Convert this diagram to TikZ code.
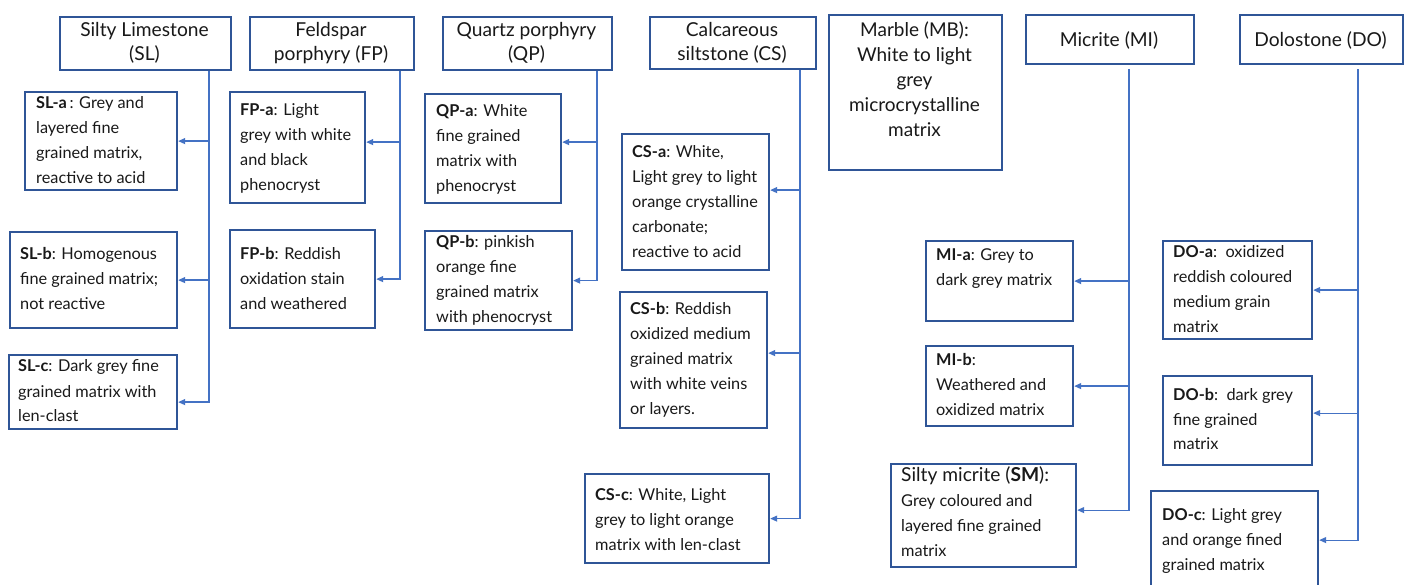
\documentclass[tikz,border=0pt]{standalone}
\usepackage{fontspec}
\setmainfont{Lato}
\usetikzlibrary{arrows.meta,calc}
\definecolor{boxblue}{HTML}{2F5597}
\definecolor{lineblue}{HTML}{4472C4}
\newcommand\bodyfont{\fontsize{16.3}{25}\selectfont}
\newcommand\headfont{\fontsize{19.2}{24}\selectfont}
\newcommand\mbfont{\fontsize{19}{25}\selectfont}
\newcommand\tl[1]{\begin{tabular}[t]{@{}l@{}}#1\end{tabular}}
\newcommand\tcc[1]{\begin{tabular}[t]{@{}c@{}}#1\end{tabular}}
\begin{document}
\begin{tikzpicture}[x=1pt,y=-1pt,
  box/.style={draw=boxblue,line width=2.2pt,inner sep=0pt,anchor=north west,fill=white},
  sz/.style 2 args={minimum width=#1pt,minimum height=#2pt},
  txt/.style={inner sep=0pt,anchor=base west,font=\bodyfont,text=black!90},
  htxt/.style={inner sep=0pt,anchor=base,font=\headfont,text=black!90},
  conn/.style={draw=lineblue,line width=1.2pt},
  arr/.style={conn,-{Triangle[length=7pt,width=6pt]}}]
\useasboundingbox[fill=white] (0,0) rectangle (1409,585);

% headers
\node[box,sz={171}{53}] (sl) at (59,16) {};
\node[box,sz={164}{53}] (fp) at (249,16) {};
\node[box,sz={169}{53}] (qp) at (442,16) {};
\node[box,sz={166}{52}] (cs) at (649,16) {};
\node[box,sz={173}{155}] (mb) at (828,14) {};
\node[box,sz={168}{49}] (mi) at (1025,14) {};
\node[box,sz={163}{49}] (do) at (1239,14) {};

\node[htxt] (slt) at (144.5,37) {\tcc{Silty Limestone\\(SL)}};
\node[htxt] (fpt) at (331,37) {\tcc{Feldspar\\porphyry (FP)}};
\node[htxt] (qpt) at (526.5,37) {\tcc{Quartz porphyry\\(QP)}};
\node[htxt] (cst) at (732,37) {\tcc{Calcareous\\siltstone (CS)}};
\node[htxt,font=\mbfont] (mbt) at (914.5,37) {\tcc{Marble (MB):\\White to light\\grey\\microcrystalline\\matrix}};
\node[htxt] (mit) at (1109,47) {Micrite (MI)};
\node[htxt] (dot) at (1320.5,47) {Dolostone (DO)};

% sub boxes
\node[box,sz={152}{98}] (sla) at (24,91) {};
\node[box,sz={167}{96}] (slb) at (9,231) {};
\node[box,sz={168}{74}] (slc) at (8,354) {};
\node[box,sz={135}{111}] (fpa) at (229,91) {};
\node[box,sz={145}{98}] (fpb) at (229,229) {};
\node[box,sz={136}{109}] (qpa) at (424,93) {};
\node[box,sz={147}{99}] (qpb) at (424,230) {};
\node[box,sz={147}{136}] (csa) at (621,133) {};
\node[box,sz={147}{136}] (csb) at (619,291) {};
\node[box,sz={184}{89}] (csc) at (584,473) {};
\node[box,sz={147}{80}] (mia) at (925,240) {};
\node[box,sz={147}{80}] (mib) at (925,345) {};
\node[box,sz={185}{103}] (sm) at (890,463) {};
\node[box,sz={149}{98}] (doa) at (1162,240) {};
\node[box,sz={149}{89}] (dob) at (1162,375) {};
\node[box,sz={167}{110}] (doc) at (1150,490) {};

% texts
\node[txt] (slat) at (36,109) {\tl{\textbf{SL-a}\,: Grey and\\layered fine\\grained matrix,\\reactive to acid}};
\node[txt] (slbt) at (20,260) {\tl{\textbf{SL-b}: Homogenous\\fine grained matrix;\\not reactive}};
\node[txt] (slct) at (18,372) {\tl{\textbf{SL-c}: Dark grey fine\\grained matrix with\\len-clast}};
\node[txt] (fpat) at (240,116) {\tl{\textbf{FP-a}: Light\\grey with white\\and black\\phenocryst}};
\node[txt] (fpbt) at (240,260) {\tl{\textbf{FP-b}: Reddish\\oxidation stain\\and weathered}};
\node[txt] (qpat) at (436,117) {\tl{\textbf{QP-a}: White\\fine grained\\matrix with\\phenocryst}};
\node[txt] (qpbt) at (436,248) {\tl{\textbf{QP-b}: pinkish\\orange fine\\grained matrix\\with phenocryst}};
\node[txt] (csat) at (632,158) {\tl{\textbf{CS-a}: White,\\Light grey to light\\orange crystalline\\carbonate;\\reactive to acid}};
\node[txt] (csbt) at (630,315) {\tl{\textbf{CS-b}: Reddish\\oxidized medium\\grained matrix\\with white veins\\or layers.}};
\node[txt] (csct) at (595,500) {\tl{\textbf{CS-c}: White, Light\\grey to light orange\\matrix with len-clast}};
\node[txt] (miat) at (936,261) {\tl{\textbf{MI-a}: Grey to\\dark grey matrix}};
\node[txt] (mibt) at (936,366) {\tl{\textbf{MI-b}:\\Weathered and\\oxidized matrix}};
\node[txt] (smt) at (901,481) {\tl{{\headfont Silty micrite (\textbf{SM}):}\\Grey coloured and\\layered fine grained\\matrix}};
\node[txt] (doat) at (1173,258) {\tl{\textbf{DO-a}:\ \ oxidized\\reddish coloured\\medium grain\\matrix}};
\node[txt] (dobt) at (1173,400) {\tl{\textbf{DO-b}:\ \ dark grey\\fine grained\\matrix}};
\node[txt] (doct) at (1162,520) {\tl{\textbf{DO-c}: Light grey\\and orange fined\\grained matrix}};

% trunk x positions
\coordinate (slx) at (209,0);
\coordinate (fpx) at (400,0);
\coordinate (qpx) at (597,0);
\coordinate (csx) at (800,0);
\coordinate (mix) at (1129,0);
\coordinate (dox) at (1358,0);
\coordinate (mis) at ([yshift=-4pt]mi.south);
\coordinate (dos) at ([yshift=-4pt]do.south);
% arrow end points
\coordinate (slcE) at ([yshift=-10pt]slc.east);
\coordinate (fpaE) at ([yshift=5.5pt]fpa.east);
\coordinate (qpaE) at ([yshift=6.5pt]qpa.east);
\coordinate (csaE) at ([yshift=12pt]csa.east);
\coordinate (csbE) at ([yshift=7pt]csb.east);
\coordinate (smE) at ([yshift=5.5pt]sm.east);
\coordinate (dobE) at ([yshift=7.5pt]dob.east);
\coordinate (docE) at ([yshift=6pt]doc.east);

% connectors
\draw[arr] (sl.south -| slx) |- (slcE);
\draw[arr] (slx |- sla.east) -- (sla.east);
\draw[arr] (slx |- slb.east) -- (slb.east);

\draw[arr] (fp.south -| fpx) |- (fpb.east);
\draw[arr] (fpx |- fpaE) -- (fpaE);

\draw[arr] (qp.south -| qpx) |- (qpb.east);
\draw[arr] (qpx |- qpaE) -- (qpaE);

\draw[arr] (cs.south -| csx) |- (csc.east);
\draw[arr] (csx |- csaE) -- (csaE);
\draw[arr] (csx |- csbE) -- (csbE);

\draw[arr] (mis -| mix) |- (smE);
\draw[arr] (mix |- mia.east) -- (mia.east);
\draw[arr] (mix |- mib.east) -- (mib.east);

\draw[arr] (dos -| dox) |- (docE);
\draw[arr] (dox |- doa.east) -- (doa.east);
\draw[arr] (dox |- dobE) -- (dobE);
\end{tikzpicture}
\end{document}
